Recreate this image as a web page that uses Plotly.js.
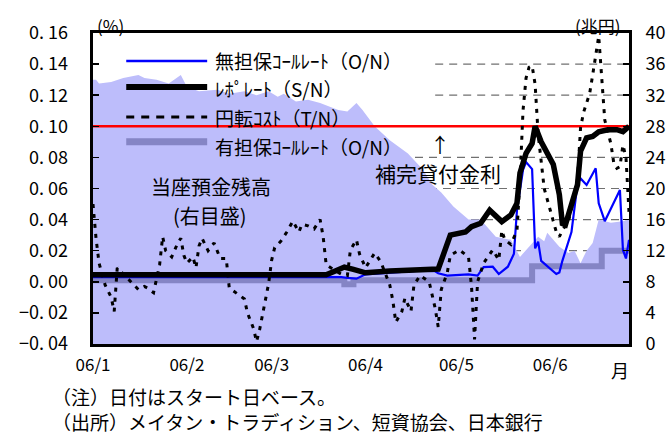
<!DOCTYPE html>
<html>
<head>
<meta charset="utf-8">
<script src="https://cdn.plot.ly/plotly-3.0.1.min.js"></script>
<style>html,body{margin:0;padding:0;background:#fff;}</style>
</head>
<body>
<div id="chart" style="width:670px;height:438px;"></div>
<script>
// x axis: days counted from 2006-01-01, labelled at month starts
const monthDays = [0, 31, 59, 90, 120, 151];
const monthLabels = ['06/1', '06/2', '06/3', '06/4', '06/5', '06/6'];

// Left scale (%) and right scale (trillion yen)
const rateTicks = [-0.04, -0.02, 0, 0.02, 0.04, 0.06, 0.08, 0.10, 0.12, 0.14, 0.16];
const rateTickLabels = ['−0. 04', '−0. 02', '0. 00', '0. 02', '0. 04', '0. 06', '0. 08', '0. 10', '0. 12', '0. 14', '0. 16'];
const balanceTicks = [0, 4, 8, 12, 16, 20, 24, 28, 32, 36, 40];

// Current account balances (trillion yen, right scale)
const balanceDays = [0, 1, 2, 6, 10, 15, 17, 21, 25, 29, 31, 35, 41, 45, 50, 54, 58, 61, 63, 67, 71, 75, 81, 84, 87, 89, 93, 98, 104, 109, 112, 115, 119, 124, 128, 133, 138, 141, 144, 147, 149, 150, 152, 154, 157, 159, 161, 163, 165, 167, 171, 175, 177];
const balanceValues = [34.0, 34.0, 33.5, 33.7, 34.2, 34.6, 34.2, 34.0, 33.5, 34.6, 33.1, 32.5, 32.7, 32.2, 32.5, 32.0, 32.5, 31.8, 32.2, 31.2, 31.4, 31.0, 30.1, 29.9, 31.0, 30.1, 28.0, 26.2, 24.5, 22.4, 20.5, 19.5, 17.7, 16.0, 16.0, 13.8, 13.4, 11.2, 12.5, 13.8, 13.2, 14.3, 13.4, 12.5, 11.7, 12.0, 10.4, 12.0, 13.0, 16.0, 15.6, 15.8, 16.0];

// Uncollateralized overnight call rate (%)
const callDays = [0, 77, 82, 84, 87, 90, 98, 108, 113, 114, 117, 124, 127, 129, 132, 134, 137, 139, 140, 142, 143, 145, 146, 147, 148, 150, 153, 154, 155, 158, 160, 161, 163, 166, 167, 169, 174, 175, 176, 177];
const callRate = [0.003, 0.003, 0.003, 0.0025, 0.002, 0.0048, 0.006, 0.0072, 0.0068, 0.0055, 0.004, 0.0048, 0.004, 0.0094, 0.0097, 0.005, 0.0097, 0.018, 0.046, 0.072, 0.077, 0.0725, 0.0215, 0.0258, 0.0135, 0.0103, 0.005, 0.006, 0.0135, 0.032, 0.063, 0.0665, 0.0623, 0.073, 0.0505, 0.039, 0.059, 0.0205, 0.015, 0.027];

// Repo rate, S/N (%)
const repoDays = [0, 40, 77, 80, 83, 86, 90, 98, 108, 114, 118, 123, 125, 128, 131, 134, 135, 138, 140, 141, 143, 145, 146, 148, 150, 152, 154, 155, 156, 158, 160, 161, 163, 165, 167, 170, 173, 175, 177];
const repoRate = [0.0045, 0.0045, 0.0045, 0.007, 0.0095, 0.008, 0.0058, 0.007, 0.0082, 0.0082, 0.030, 0.032, 0.0354, 0.0376, 0.046, 0.0397, 0.0387, 0.043, 0.0505, 0.070, 0.0826, 0.089, 0.100, 0.090, 0.083, 0.0755, 0.056, 0.0375, 0.0367, 0.0496, 0.0625, 0.084, 0.0925, 0.0935, 0.0965, 0.0978, 0.0978, 0.0966, 0.100];

// Yen conversion cost, T/N (%)
const tnDays = [0, 1, 2, 4, 6, 7, 8, 11, 15, 17, 18, 20, 22, 23, 24, 26, 28, 29, 30, 31, 33, 34, 35, 36, 38, 40, 42, 44, 45, 49, 50, 51, 53, 54, 55, 56, 57, 58, 59, 60, 61, 62, 64, 66, 68, 69, 71, 73, 75, 76, 77, 80, 82, 84, 85, 87, 88, 90, 93, 95, 98, 99, 100, 102, 103, 105, 106, 108, 111, 113, 114, 115, 117, 118, 121, 124, 125, 126, 127, 129, 132, 134, 135, 136, 138, 140, 141, 142, 143, 144, 145, 146, 147, 148, 149, 151, 153, 154, 155, 157, 158, 160, 161, 162, 164, 165, 166, 167, 168, 169, 171, 172, 173, 174, 175, 176, 177];
const tnRate = [0.050, 0.028, 0.012, -0.002, -0.010, -0.019, 0.009, 0.003, -0.005, -0.003, -0.004, -0.007, 0.011, 0.029, 0.020, 0.016, 0.025, 0.028, 0.017, 0.012, 0.016, 0.009, 0.023, 0.028, 0.020, 0.025, 0.015, 0.015, -0.004, -0.0096, -0.011, -0.020, -0.030, -0.0385, -0.031, -0.021, -0.0105, -0.001, 0.014, 0.022, 0.024, 0.026, 0.032, 0.039, 0.032, 0.037, 0.036, 0.034, 0.040, 0.029, 0.011, 0.007, 0.005, 0.004, 0.0205, 0.027, 0.018, 0.009, 0.0185, 0.013, -0.002, -0.012, -0.026, -0.019, -0.0105, -0.019, -0.002, 0.004, 0.000, -0.017, -0.029, -0.005, 0.006, 0.017, 0.0205, 0.016, -0.003, -0.037, 0.000, 0.012, 0.0205, 0.014, 0.033, 0.027, 0.024, 0.033, 0.065, 0.110, 0.131, 0.138, 0.139, 0.127, 0.095, 0.078, 0.060, 0.046, 0.032, 0.029, 0.033, 0.039, 0.047, 0.066, 0.099, 0.109, 0.121, 0.133, 0.146, 0.158, 0.131, 0.104, 0.089, 0.076, 0.073, 0.074, 0.088, 0.080, 0.045];

// Collateralized overnight call rate (%)
const collatDays = [0, 83, 86, 145, 168, 177];
const collatRate = [0.001, -0.0015, 0.001, 0.010, 0.020, 0.020];

// Complementary lending facility rate (%)
const lombardDays = [0, 177];
const lombardRate = [0.10, 0.10];

// Dashed reference levels on the right scale
const gridLevels = [12, 16, 20, 24, 32, 36];
const gridStartDays = [0, 0, 0, 0, 113, 113];

const FONT = '"Noto Sans CJK JP", "Noto Sans", sans-serif';
const BLUE = '#0000ff', RED = '#ff0000', AREA = '#bdbdfb', BAND = '#8585c5';

const traces = [
  { x: balanceDays, y: balanceValues, yaxis: 'y', type: 'scatter', mode: 'lines',
    fill: 'tozeroy', fillcolor: AREA, line: { width: 0, color: AREA }, hoverinfo: 'skip' },
  { x: lombardDays, y: lombardRate, yaxis: 'y2', type: 'scatter', mode: 'lines',
    line: { color: RED, width: 2.5 } },
  { x: collatDays, y: collatRate, yaxis: 'y2', type: 'scatter', mode: 'lines',
    line: { color: BAND, width: 6, shape: 'hv' } },
  { x: callDays, y: callRate, yaxis: 'y2', type: 'scatter', mode: 'lines',
    line: { color: BLUE, width: 2.2 } },
  { x: tnDays, y: tnRate, yaxis: 'y2', type: 'scatter', mode: 'lines',
    line: { color: '#000', width: 3, dash: '4px,6px' } },
  { x: repoDays, y: repoRate, yaxis: 'y2', type: 'scatter', mode: 'lines',
    line: { color: '#000', width: 5.5 } }
];

const shapes = gridLevels.map((lv, i) => ({
  type: 'line', layer: 'below', xref: 'x', yref: 'y',
  x0: gridStartDays[i], x1: 177, y0: lv, y1: lv,
  line: { color: '#707070', width: 1.2, dash: '8px,6px' }
}));

// Legend samples (sample height, text height)
const legendItems = [
  { y: 0.910, ty: 0.910, text: '無担保ｺｰﾙﾚｰﾄ（O/N）', line: { color: BLUE, width: 2.5 } },
  { y: 0.826, ty: 0.820, text: 'ﾚﾎﾟﾚｰﾄ（S/N）', line: { color: '#000', width: 6 } },
  { y: 0.730, ty: 0.728, text: '円転ｺｽﾄ（T/N）', line: { color: '#000', width: 3, dash: '8px,7px' } },
  { y: 0.650, ty: 0.636, text: '有担保ｺｰﾙﾚｰﾄ（O/N）', line: { color: BAND, width: 7 } }
];
legendItems.forEach(it => {
  shapes.push({ type: 'line', xref: 'paper', yref: 'paper', x0: 0.062, x1: 0.213,
    y0: it.y, y1: it.y, line: it.line });
});

const ann = (text, x, y, size, extra) => Object.assign({
  text, x, y, xref: 'paper', yref: 'paper', showarrow: false,
  font: { family: FONT, size, color: '#000' }, xanchor: 'center', yanchor: 'middle'
}, extra || {});

const annotations = legendItems.map(it =>
  ann(it.text, 0.224, it.ty, 19, { xanchor: 'left' }));
annotations.push(
  ann('(%)', 0.032, 1.025, 17),
  ann('(兆円)', 0.942, 1.025, 17),
  ann('↑', 0.647, 0.640, 20),
  ann('補完貸付金利', 0.644, 0.550, 21),
  ann('当座預金残高', 0.220, 0.505, 20),
  ann('(右目盛)', 0.218, 0.412, 20),
  ann('月', 0.983, -0.082, 18),
  ann('（注）日付はスタート日ベース。', -0.081, -0.168, 19, { xanchor: 'left' }),
  ann('（出所）メイタン・トラディション、短資協会、日本銀行', -0.081, -0.299, 19,
    { xanchor: 'left', yanchor: 'bottom' })
);

const layout = {
  width: 670, height: 438,
  margin: { l: 93, r: 41, t: 33, b: 94, pad: 0 },
  paper_bgcolor: '#fff', plot_bgcolor: '#fff',
  showlegend: false,
  font: { family: FONT, size: 18, color: '#000' },
  xaxis: {
    range: [0, 177], tickvals: monthDays, ticktext: monthLabels,
    ticks: '', showgrid: false, zeroline: false,
    showline: true, mirror: true, linecolor: '#000', linewidth: 3,
    ticklabelstandoff: 4, tickfont: { family: FONT, size: 17 }
  },
  yaxis: {
    range: [0, 40], side: 'right', tickvals: balanceTicks,
    ticks: 'inside', ticklen: 6, tickwidth: 1.5, tickcolor: '#000',
    showgrid: false, zeroline: false,
    showline: true, mirror: true, linecolor: '#000', linewidth: 3,
    ticklabelstandoff: 10, tickfont: { family: FONT, size: 18 }
  },
  yaxis2: {
    range: [-0.04, 0.16], overlaying: 'y', side: 'left',
    tickvals: rateTicks, ticktext: rateTickLabels,
    ticks: 'inside', ticklen: 6, tickwidth: 1.5, tickcolor: '#000',
    showgrid: false, zeroline: false, showline: false,
    ticklabelstandoff: 24, tickfont: { family: FONT, size: 18 }
  },
  shapes, annotations
};

Plotly.newPlot('chart', traces, layout, { staticPlot: true, displayModeBar: false });
</script>
</body>
</html>
